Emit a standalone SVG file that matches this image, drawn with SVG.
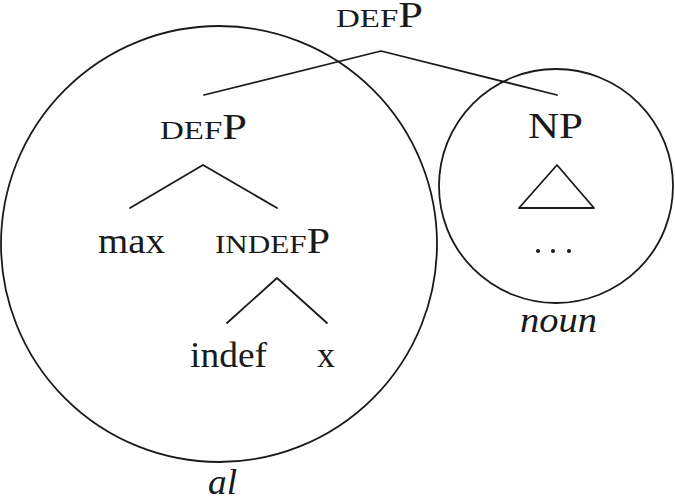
<svg xmlns="http://www.w3.org/2000/svg" width="675" height="501" viewBox="0 0 675 501">
<style>
text{font-family:"Liberation Serif","Times New Roman",serif;font-size:35px;fill:#1a1a1a}
.sc{font-size:26px}
.it{font-style:italic}
.ln{stroke:#1a1a1a;stroke-width:1.8;fill:none;stroke-linecap:round;stroke-linejoin:round}
.dot{fill:#1a1a1a}
</style>
<rect width="675" height="501" fill="#fff"/>
<g id="circle-al">
<circle class="ln" cx="219" cy="244" r="218"/>
<text class="it" x="208" y="494" textLength="29" lengthAdjust="spacingAndGlyphs">al</text>
</g>
<g id="circle-noun">
<circle class="ln" cx="556" cy="186" r="117"/>
<text class="it" x="520" y="332" textLength="77" lengthAdjust="spacingAndGlyphs">noun</text>
</g>
<g id="connectors">
<polyline class="ln" points="204,95 381,51 557,95"/>
<polyline class="ln" points="130,208 203,165 277,208"/>
<polyline class="ln" points="227,323 277,278 327,323"/>
</g>
<g id="node-defP-top"><text x="336" y="27" textLength="87" lengthAdjust="spacingAndGlyphs"><tspan class="sc">DEF</tspan>P</text></g>
<g id="node-defP"><text x="160" y="139" textLength="87" lengthAdjust="spacingAndGlyphs"><tspan class="sc">DEF</tspan>P</text></g>
<g id="node-NP"><text x="528" y="138" textLength="55" lengthAdjust="spacingAndGlyphs">NP</text></g>
<g id="node-NP-triangle"><polygon class="ln" points="557,165 519,208 594,208"/></g>
<g id="node-dots"><circle class="dot" cx="538" cy="251" r="2"/><circle class="dot" cx="553" cy="251" r="2"/><circle class="dot" cx="569" cy="251" r="2"/></g>
<g id="node-max"><text x="98" y="253" textLength="67" lengthAdjust="spacingAndGlyphs">max</text></g>
<g id="node-indefP"><text x="215" y="253" textLength="115" lengthAdjust="spacingAndGlyphs"><tspan class="sc">INDEF</tspan>P</text></g>
<g id="node-indef"><text x="190" y="367" textLength="77" lengthAdjust="spacingAndGlyphs">indef</text></g>
<g id="node-x"><text x="317" y="367" font-size="37" textLength="18" lengthAdjust="spacingAndGlyphs">x</text></g>
</svg>
